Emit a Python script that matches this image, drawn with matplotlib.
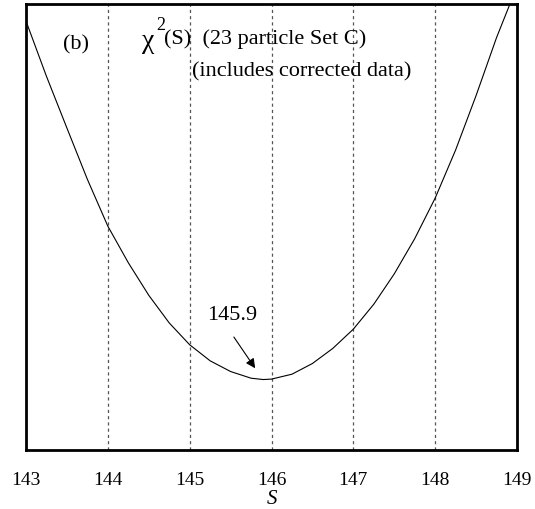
import numpy as np
import matplotlib
matplotlib.use("Agg")
from matplotlib import pyplot as plt

plt.rcParams["font.family"] = ["Liberation Serif", "DejaVu Serif"]

# chi^2 scan over S
s_values = [143.00, 143.25, 143.50, 143.75, 144.00, 144.25, 144.50, 144.75,
            145.00, 145.25, 145.50, 145.75, 145.90, 146.00, 146.25, 146.50,
            146.75, 147.00, 147.25, 147.50, 147.75, 148.00, 148.25, 148.50,
            148.75, 149.00]
chi2_values = [43.86, 40.14, 36.66, 33.21, 30.06, 27.60, 25.41, 23.55,
               22.08, 21.00, 20.28, 19.83, 19.74, 19.77, 20.10, 20.82,
               21.84, 23.13, 24.81, 26.85, 29.22, 31.95, 35.19, 38.85,
               42.75, 46.20]
s_ticks = [143, 144, 145, 146, 147, 148, 149]
s_min = 145.9

fig = plt.figure(figsize=(5.35, 5.10), dpi=100)
ax = fig.add_axes([0.0486, 0.1157, 0.9178, 0.8743])

ax.plot(s_values, chi2_values, color="black", lw=0.8)

for s in s_ticks[1:-1]:
    ax.axvline(s, color="#555555", lw=0.9, ls=(0, (2.5, 2.5)), zorder=0)

ax.set_xlim(143, 149)
ax.set_ylim(15, 45)
ax.set_xticks(s_ticks)
ax.set_yticks([])
ax.tick_params(axis="x", length=0, pad=15, labelsize=14)
ax.set_xlabel("S", fontstyle="italic", fontsize=15, labelpad=1)
for sp in ax.spines.values():
    sp.set_linewidth(2.0)

tr = ax.transAxes
ax.text(0.102, 0.901, "(b)", transform=tr, fontsize=16,
        ha="center", va="baseline")
# chi^2 with a raised superscript
ax.text(0.236, 0.903, "\u03c7", transform=tr, fontsize=20,
        ha="left", va="baseline")
ax.text(0.265, 0.944, "2", transform=tr, fontsize=13,
        ha="left", va="baseline")
ax.text(0.281, 0.9126, "(S)  (23 particle Set C)", transform=tr,
        fontsize=16, ha="left", va="baseline")
ax.text(0.338, 0.841, "(includes corrected data)", transform=tr,
        fontsize=16, ha="left", va="baseline")

# label and arrow pointing at the minimum
ax.text(145.52, 24.1, "%.1f" % s_min, fontsize=16, ha="center", va="center")
ax.annotate("", xy=(145.80, 20.5), xytext=(145.54, 22.6),
            arrowprops=dict(arrowstyle="-|>", color="black", lw=0.8,
                            shrinkA=0, shrinkB=0, mutation_scale=14))

fig.savefig("out.png", dpi=100)
